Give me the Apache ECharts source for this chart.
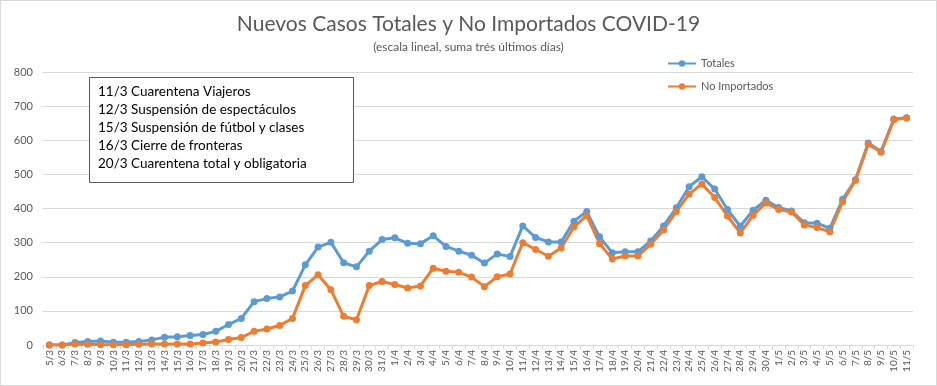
<!DOCTYPE html>
<html>
<head>
<meta charset="utf-8">
<script src="https://cdn.jsdelivr.net/npm/echarts@6/dist/echarts.min.js"></script>
<style>
html,body{margin:0;padding:0;background:#fff;}
#c{width:937px;height:386px;box-sizing:border-box;border:1px solid #d9d9d9;}
</style>
</head>
<body>
<div id="c"></div>
<script>
const categories = ["5/3","6/3","7/3","8/3","9/3","10/3","11/3","12/3","13/3","14/3","15/3","16/3","17/3","18/3","19/3","20/3","21/3","22/3","23/3","24/3","25/3","26/3","27/3","28/3","29/3","30/3","31/3",
"1/4","2/4","3/4","4/4","5/4","6/4","7/4","8/4","9/4","10/4","11/4","12/4","13/4","14/4","15/4","16/4","17/4","18/4","19/4","20/4","21/4","22/4","23/4","24/4","25/4","26/4","27/4","28/4","29/4","30/4",
"1/5","2/5","3/5","4/5","5/5","6/5","7/5","8/5","9/5","10/5","11/5"];
const totales = [0,0,7,10,12,8,8,10,15,23,24,28,31,40,60,78,127,136,141,158,235,287,301,241,229,275,309,
314,298,297,320,289,275,263,240,267,259,349,315,302,302,363,391,317,270,273,273,305,349,402,464,493,457,397,348,395,424,
403,393,358,357,342,427,484,592,567,662,666];
const noImportados = [0,0,3,2,1,1,1,2,3,3,3,3,6,9,16,22,40,47,57,78,174,206,162,84,74,174,186,
177,167,173,225,216,213,199,171,200,208,300,280,260,284,346,379,297,252,261,261,295,337,391,442,472,432,378,328,380,416,
397,390,352,344,332,420,482,588,565,660,665];
const yTicks = {min:0, max:800, interval:100};
const notes = ["11/3 Cuarentena Viajeros","12/3 Suspensión de espectáculos","15/3 Suspensión de fútbol y clases","16/3 Cierre de fronteras","20/3 Cuarentena total y obligatoria"];

const chart = echarts.init(document.getElementById('c'));
chart.setOption({
  animation:false,
  textStyle:{fontFamily:'Lato'},
  title:{
    text:'Nuevos Casos Totales y No Importados COVID-19',
    subtext:'(escala lineal, suma trés últimos días)',
    left:'center', top:8, itemGap:6,
    textStyle:{fontFamily:'Lato',fontWeight:'normal',fontSize:21,color:'#595959'},
    subtextStyle:{fontFamily:'Lato',fontSize:12,color:'#595959'}
  },
  legend:{
    orient:'vertical', left:661, top:52, itemWidth:28, itemHeight:8, itemGap:12,
    textStyle:{fontFamily:'Lato',fontSize:11,color:'#595959'},
    data:['Totales','No Importados']
  },
  grid:{left:42, right:23, top:71, bottom:40, containLabel:false},
  xAxis:{
    type:'category', data:categories, boundaryGap:true,
    axisLine:{lineStyle:{color:'#d9d9d9'}},
    axisTick:{show:true, interval:0, length:4, lineStyle:{color:'#d9d9d9'}},
    axisLabel:{interval:0, rotate:90, fontSize:10, color:'#595959', margin:5, fontFamily:'Lato'}
  },
  yAxis:{
    type:'value', min:yTicks.min, max:yTicks.max, interval:yTicks.interval,
    axisLine:{show:false}, axisTick:{show:false},
    splitLine:{lineStyle:{color:'#d9d9d9'}},
    axisLabel:{fontSize:11, color:'#595959', margin:10, fontFamily:'Lato'}
  },
  graphic:[
    {type:'rect', left:88, top:76, shape:{width:264, height:105}, style:{fill:'#fff', stroke:'#595959', lineWidth:1}, z:10},
    {type:'text', left:97, top:82, z:11, style:{text:notes.join('\n'), fontFamily:'Lato', fontSize:13.5, lineHeight:18, fill:'#000'}}
  ],
  series:[
    {name:'Totales', type:'line', data:totales, symbol:'circle', symbolSize:7,
     itemStyle:{color:'#5b9bd5'}, lineStyle:{width:3, color:'#5b9bd5'}},
    {name:'No Importados', type:'line', data:noImportados, symbol:'circle', symbolSize:7,
     itemStyle:{color:'#ed7d31'}, lineStyle:{width:3, color:'#ed7d31'}}
  ]
});
</script>
</body>
</html>
